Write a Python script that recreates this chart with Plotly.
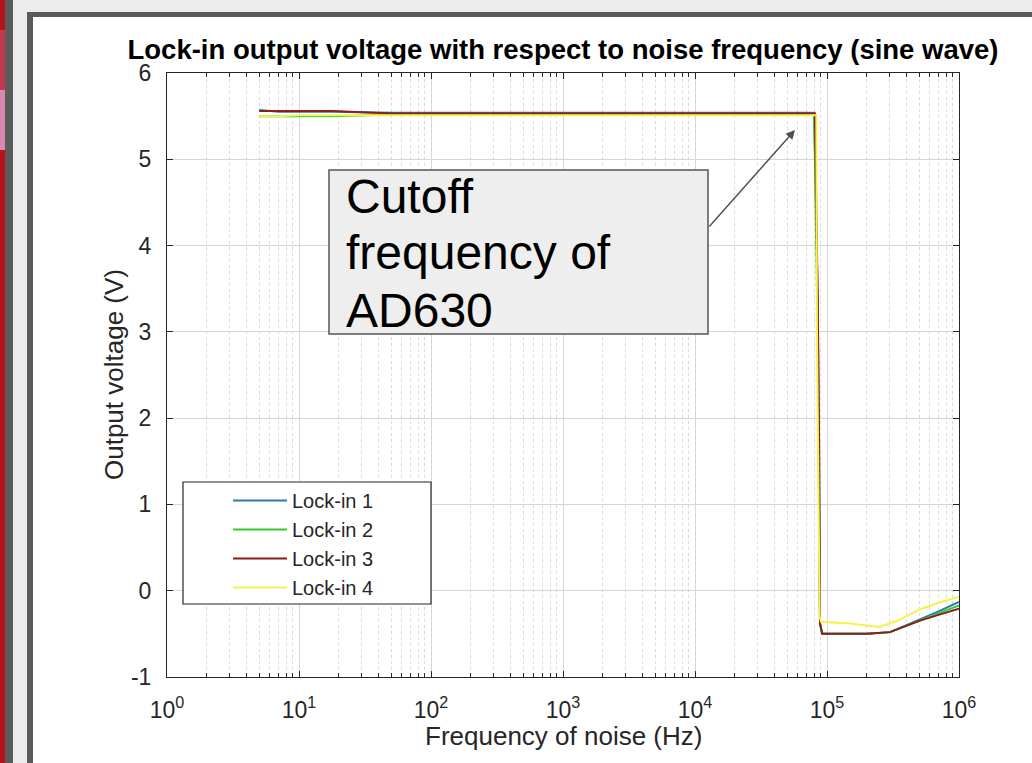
import plotly.graph_objects as go

# ---- data ----
freq_1 = [5, 7, 10, 18, 50, 100, 300, 1000, 3000, 10000, 30000, 80000, 85000, 87000, 88500, 92000, 150000, 200000, 300000, 500000, 700000, 1000000]
volt_1 = [5.57, 5.55, 5.55, 5.55, 5.54, 5.54, 5.54, 5.54, 5.54, 5.54, 5.54, 5.54, 3.4, 1.8, -0.38, -0.5, -0.5, -0.5, -0.48, -0.34, -0.24, -0.13]

freq_2 = [5, 7, 10, 18, 50, 100, 300, 700, 1000, 3000, 10000, 30000, 80000, 85000, 87000, 88500, 92000, 150000, 200000, 300000, 500000, 700000, 1000000]
volt_2 = [5.5, 5.5, 5.5, 5.5, 5.52, 5.52, 5.52, 5.52, 5.52, 5.52, 5.52, 5.52, 5.52, 3.0, 0.2, -0.38, -0.5, -0.5, -0.5, -0.48, -0.35, -0.26, -0.17]

freq_3 = [5, 7, 10, 18, 50, 100, 300, 1000, 3000, 10000, 30000, 81000, 85000, 87000, 88500, 92000, 150000, 200000, 300000, 500000, 700000, 1000000]
volt_3 = [5.56, 5.56, 5.56, 5.56, 5.53, 5.53, 5.53, 5.53, 5.53, 5.53, 5.53, 5.53, 3.4, 1.8, -0.38, -0.5, -0.5, -0.5, -0.48, -0.35, -0.28, -0.21]

freq_4 = [5, 7, 10, 18, 50, 100, 300, 1000, 3000, 10000, 30000, 83000, 84000, 86000, 88000, 90000, 150000, 250000, 350000, 500000, 700000, 1000000]
volt_4 = [5.5, 5.5, 5.51, 5.51, 5.51, 5.51, 5.51, 5.51, 5.51, 5.51, 5.51, 5.51, 3.0, 1.0, -0.3, -0.36, -0.38, -0.42, -0.34, -0.22, -0.14, -0.07]

series_names = ["Lock-in 1", "Lock-in 2", "Lock-in 3", "Lock-in 4"]
series_colors = ["#2a7ab0", "#2ccc2c", "#8e1c1c", "#f6f24a"]

x_tick_vals = [1, 10, 100, 1000, 10000, 100000, 1000000]
x_tick_text = ["10<sup>0</sup>", "10<sup>1</sup>", "10<sup>2</sup>", "10<sup>3</sup>",
               "10<sup>4</sup>", "10<sup>5</sup>", "10<sup>6</sup>"]
y_tick_vals = [-1, 0, 1, 2, 3, 4, 5, 6]
y_tick_text = ["-1", "0", "1", "2", "3", "4", "5", "6"]

note_lines = ["Cutoff", "frequency of", "AD630"]

W, H = 1032, 763
L, T, R, B = 167, 73, 959, 677


def px(x):
    return (x - L) / (R - L)


def py(y):
    return (B - y) / (B - T)


FONT = "Liberation Sans, Arial, sans-serif"
INK = "#262626"

fig = go.Figure()
for f, v, name, col in zip([freq_1, freq_2, freq_3, freq_4],
                           [volt_1, volt_2, volt_3, volt_4],
                           series_names, series_colors):
    fig.add_trace(go.Scatter(x=f, y=v, name=name, mode="lines",
                             line=dict(color=col, width=2)))

# screenshot frame around the figure
shapes = [
    dict(x0=px(0), x1=px(27), y0=py(0), y1=py(H), fillcolor="#ececec"),
    dict(x0=px(0), x1=px(W), y0=py(0), y1=py(12), fillcolor="#ececec"),
    dict(x0=px(0), x1=px(5), y0=py(0), y1=py(H), fillcolor="#b3141c"),
    dict(x0=px(0), x1=px(5), y0=py(30), y1=py(90), fillcolor="#c23a52"),
    dict(x0=px(0), x1=px(5), y0=py(90), y1=py(150), fillcolor="#dc86b4"),
    dict(x0=px(5), x1=px(13), y0=py(0), y1=py(H), fillcolor="#5b5b5b"),
    dict(x0=px(27), x1=px(33), y0=py(12), y1=py(H), fillcolor="#5b5b5b"),
    dict(x0=px(27), x1=px(W), y0=py(12), y1=py(17), fillcolor="#5b5b5b"),
]
for s in shapes:
    fig.add_shape(type="rect", xref="paper", yref="paper", line_width=0,
                  layer="below", **s)

# legend box
fig.add_shape(type="rect", xref="paper", yref="paper",
              x0=px(183), x1=px(431), y0=py(482), y1=py(604),
              fillcolor="white", line=dict(color=INK, width=1.2), layer="above")

# annotation text box
fig.add_shape(type="rect", xref="paper", yref="paper",
              x0=px(329), x1=px(708), y0=py(170), y1=py(334),
              fillcolor="#eeeeee", line=dict(color="#555555", width=1.5), layer="above")
for line, yc in zip(note_lines, [196, 252, 310]):
    fig.add_annotation(xref="paper", yref="paper", x=px(344), y=py(yc),
                       xanchor="left", yanchor="middle", text=line, showarrow=False,
                       font=dict(family=FONT, size=48, color="black"))

fig.add_annotation(xref="paper", yref="paper", x=px(795), y=py(130), text="",
                   showarrow=True, ax=-87, ay=98, arrowhead=2, arrowsize=1.3,
                   arrowwidth=1.4, arrowcolor="#505050", standoff=0)

# axis titles placed as annotations for exact positioning
fig.add_annotation(xref="paper", yref="paper", x=px(563), y=py(736),
                   xanchor="center", yanchor="middle", showarrow=False,
                   text="Frequency of noise (Hz)",
                   font=dict(family=FONT, size=26, color=INK))
fig.add_annotation(xref="paper", yref="paper", x=px(114), y=py(375),
                   xanchor="center", yanchor="middle", showarrow=False, textangle=-90,
                   text="Output voltage (V)",
                   font=dict(family=FONT, size=26, color=INK))

fig.update_layout(
    width=W, height=H,
    margin=dict(l=L, r=W - R, t=T, b=H - B),
    paper_bgcolor="white", plot_bgcolor="white",
    title=dict(text="Lock-in output voltage with respect to noise frequency (sine wave)",
               x=0.5, xref="paper", xanchor="center", y=1 - 49 / H, yanchor="middle",
               font=dict(family=FONT, size=27.5, color="black", weight="bold")),
    font=dict(family=FONT, color=INK),
    legend=dict(x=px(228), y=py(481), xanchor="left", yanchor="top",
                bgcolor="rgba(0,0,0,0)", borderwidth=0, itemwidth=54,
                font=dict(family=FONT, size=20, color=INK)),
)

fig.update_xaxes(
    type="log", range=[0, 6], tickvals=x_tick_vals, ticktext=x_tick_text,
    ticks="inside", ticklen=6, tickcolor=INK, mirror="ticks",
    showline=True, linecolor=INK, linewidth=1,
    showgrid=True, gridcolor="#d6d6d6", gridwidth=1, zeroline=False,
    minor=dict(dtick="D1", ticks="inside", ticklen=4, tickcolor=INK,
               showgrid=True, gridcolor="#dadada", griddash="dot", gridwidth=1),
    tickfont=dict(family=FONT, size=23, color=INK), ticklabelstandoff=12,
)
fig.update_yaxes(
    range=[-1, 6], tickvals=y_tick_vals, ticktext=y_tick_text,
    ticks="inside", ticklen=6, tickcolor=INK, mirror="ticks",
    showline=True, linecolor=INK, linewidth=1,
    showgrid=True, gridcolor="#d6d6d6", gridwidth=1, zeroline=False,
    tickfont=dict(family=FONT, size=23, color=INK), ticklabelstandoff=10,
)

fig.write_html("out.html", config={"displayModeBar": False},
               post_script="document.body.style.margin='0';")
